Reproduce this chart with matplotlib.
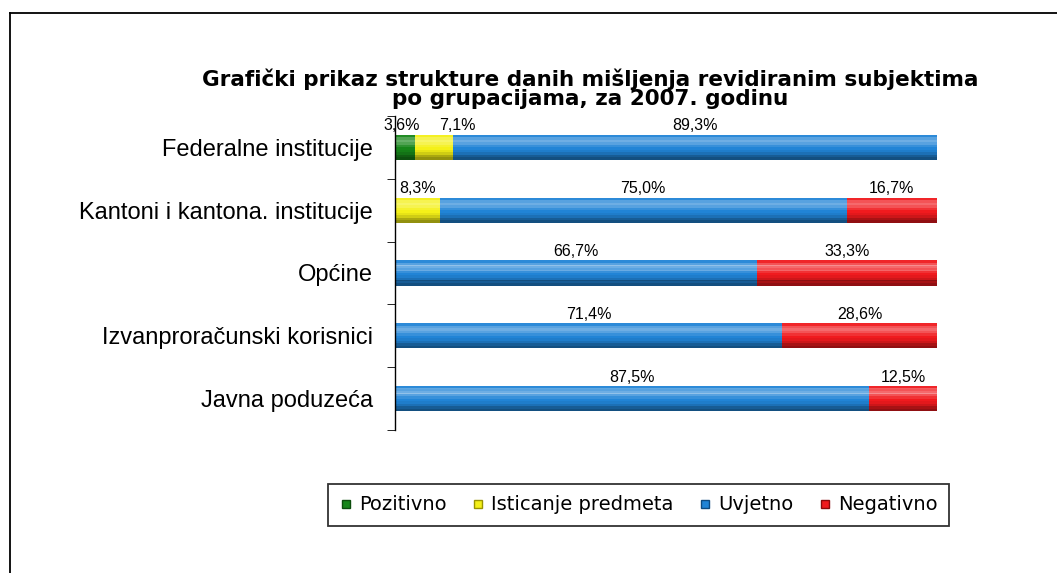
import numpy as np
import matplotlib.pyplot as plt
from matplotlib.lines import Line2D

# data (percent of opinions per group)
categories = ["Federalne institucije", "Kantoni i kantona. institucije", "Općine",
              "Izvanproračunski korisnici", "Javna poduzeća"]
series_names = ["Pozitivno", "Isticanje predmeta", "Uvjetno", "Negativno"]
pozitivno = [3.6, 0, 0, 0, 0]
isticanje = [7.1, 8.3, 0, 0, 0]
uvjetno = [89.3, 75.0, 66.7, 71.4, 87.5]
negativno = [0, 16.7, 33.3, 28.6, 12.5]

colors = ["#17861a", "#f4f018", "#2184d6", "#f01a1e"]
edges = ["#0d4d0d", "#9a9400", "#0f4a80", "#8a0a0c"]

# nudges (pixels) for labels that would collide, like Excel does
nudge = {(0, 0): -3, (1, 0): 24}

# shading profile across bar height (top -> bottom): >0 lighten, <0 darken
shade = [0.05, 0.25, 0.35, 0.25, 0.1, 0.0, -0.05, -0.15, -0.3, -0.4]

fig = plt.figure(figsize=(10.57, 5.73), dpi=100)
ax = fig.add_axes([0.3737, 0.2496, 0.8865 - 0.3737, 0.548])

y = np.arange(len(categories))
bh = 0.4
nb = len(shade)
left = np.zeros(len(categories))
for si, (vals, c, name) in enumerate(zip([pozitivno, isticanje, uvjetno, negativno], colors, series_names)):
    vals = np.array(vals)
    ax.barh(y, vals, left=left, height=bh, color=c, linewidth=0, label=name)
    # bevel look: stack thin translucent bands
    for k, s in enumerate(shade):
        if s == 0:
            continue
        off = -bh / 2 + (k + 0.5) * bh / nb
        ax.barh(y + off, vals, left=left, height=bh / nb + 0.002,
                color="white" if s > 0 else "black", alpha=abs(s), linewidth=0)
    for yi, v, l in zip(y, vals, left):
        if v > 0:
            ax.annotate(("%.1f%%" % v).replace(".", ","), (l + v / 2, yi - bh / 2),
                        xytext=(nudge.get((si, yi), 0) * 0.72, 1), textcoords="offset points",
                        ha="center", va="bottom", fontsize=11.5, family="Liberation Sans")
    left = left + vals

ax.set_xlim(0, 100)
ax.set_ylim(len(categories) - 0.5, -0.5)
ax.set_yticks(y)
ax.set_yticklabels(categories, fontsize=17, family="Liberation Sans")
ax.tick_params(axis="y", length=0, pad=16)
ax.set_yticks(np.arange(-0.5, len(categories), 1), minor=True)
ax.tick_params(axis="y", which="minor", length=6, direction="out")
ax.set_xticks([])
for s in ["top", "right", "bottom"]:
    ax.spines[s].set_visible(False)
ax.spines["left"].set_linewidth(1.0)

fig.text(0.558, 0.845, "Grafički prikaz strukture danih mišljenja revidiranim subjektima\npo grupacijama, za 2007. godinu",
         ha="center", va="center", fontsize=15.5, fontweight="bold", linespacing=0.95)

handles = [Line2D([0], [0], marker="s", color="w", markerfacecolor=c, markeredgecolor=ec,
                  markersize=6, label=n) for c, ec, n in zip(colors, edges, series_names)]
leg = fig.legend(handles=handles, loc="center", bbox_to_anchor=(0.604, 0.1187), ncol=4,
                 fontsize=14, frameon=True, fancybox=False, edgecolor="black",
                 handlelength=0.7, handletextpad=0.3, columnspacing=1.3, borderpad=0.6)
leg.get_frame().set_linewidth(1.3)

# outer chart frame (only left and top visible)
fr = dict(color="black", linewidth=1.3, transform=fig.transFigure)
fig.add_artist(Line2D([0.0095, 0.0095], [0.977, 0.0], **fr))
fig.add_artist(Line2D([0.0095, 1.0], [0.977, 0.977], **fr))

fig.savefig("out.png", dpi=100)
